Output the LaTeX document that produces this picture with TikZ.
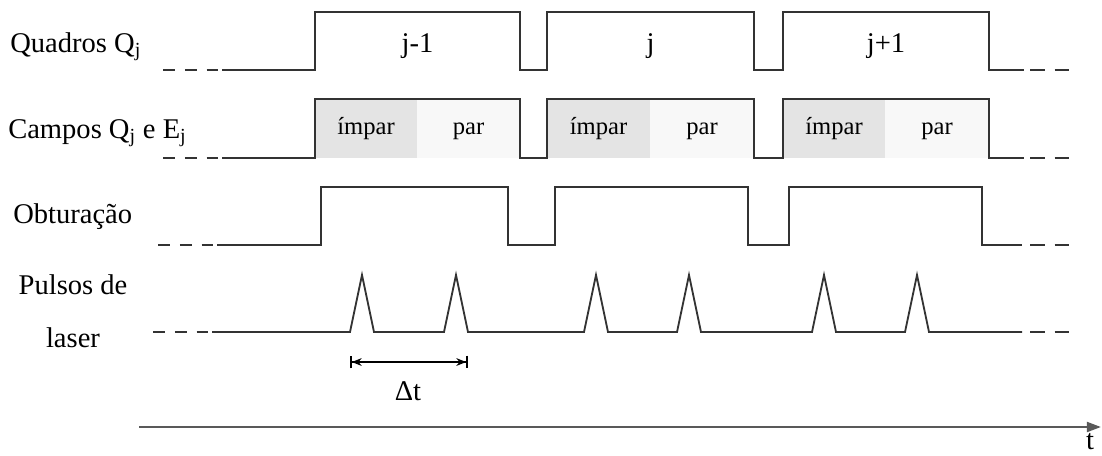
\documentclass[tikz,border=0pt]{standalone}
\usepackage{fontspec}
\setmainfont{Liberation Serif}
\usetikzlibrary{arrows.meta}
\definecolor{campoimpar}{HTML}{E4E4E4}
\definecolor{campopar}{HTML}{F8F8F8}
\tikzset{
  sinal/.style={line width=1.3pt,draw=black!80},
  reticencias/.style={sinal,dash pattern=on 8.5pt off 7pt},
  eixo/.style={line width=1.7pt,draw=black!65},
  rotulo/.style={anchor=base west,inner sep=0pt,font=\fontsize{20.3}{24}\selectfont},
  quadro/.style={anchor=base,inner sep=0pt,font=\fontsize{20.3}{24}\selectfont},
  campo/.style={anchor=base,inner sep=0pt,font=\fontsize{17.5}{21}\selectfont},
}

\begin{document}
\begin{tikzpicture}[x=0.025cm,y=-0.025cm,>=stealth]
\useasboundingbox (0,0) rectangle (1102,455);
% nomes das linhas
\node[rotulo] (quadros) at (10,52) {Quadros Q\textsubscript{j}};
\node[rotulo] (campos) at (8,138) {Campos Q\textsubscript{j} e E\textsubscript{j}};
\node[rotulo] (obturacao) at (13,223) {Obturação};
\node[quadro,align=center,font=\fontsize{20.3}{37}\selectfont] (pulsos) at (73,347) {Pulsos de\\laser};
% campos impar/par
\foreach \a/\m/\b [count=\i] in {315/417/520, 547/650/754, 783/885/989}{
  \fill[campoimpar] (\a,99) rectangle (\m,158);
  \fill[campopar] (\m,99) rectangle (\b,158);
  \node[campo] (impar\i) at ({(\a+\m)/2},134) {ímpar};
  \node[campo] (par\i) at ({(\m+\b)/2},134) {par};
}
% quadros
\draw[reticencias] (163,70)--(218,70);
\draw[sinal] (222,70) -| (315,12) -| (520,70) -| (547,12) -| (754,70) -| (783,12) -| (989,70) -- (1024,70);
\draw[reticencias,dash pattern=on 10.5pt off 7pt] (1030,70)--(1070,70);
\foreach \a/\b/\q [count=\i] in {315/520/j-1, 547/754/j, 783/989/j+1}
  \node[quadro] (quadro\i) at ({(\a+\b)/2},52) {\q};
% campos
\draw[reticencias] (163,158)--(218,158);
\draw[sinal] (222,158) -| (315,99) -| (520,158) -| (547,99) -| (754,158) -| (783,99) -| (989,158) -- (1024,158);
\draw[reticencias,dash pattern=on 10.5pt off 7pt] (1030,158)--(1070,158);
% obturacao
\draw[reticencias] (158,245)--(213,245);
\draw[sinal] (217,245) -| (321,187) -| (508,245) -| (555,187) -| (748,245) -| (789,187) -| (982,245) -- (1022,245);
\draw[reticencias,dash pattern=on 10.5pt off 7pt] (1030,245)--(1070,245);
% pulsos de laser
\draw[reticencias] (153,332)--(208,332);
\draw[sinal] (212,332) \foreach \p in {362,456,596,689,824,917}{ -- (\p-12,332) -- (\p,275) -- (\p+12,332)} -- (1022,332);
\draw[reticencias,dash pattern=on 10.5pt off 7pt] (1030,332)--(1070,332);
% intervalo entre pulsos
\coordinate (dt1) at (350,362);
\coordinate (dt2) at (468,362);
\draw[line width=1.3pt,{Bar[width=9pt]Stealth[length=7pt,width=5.5pt]}-{Stealth[length=7pt,width=5.5pt]Bar[width=9pt]}] (dt1)--(dt2);
\node[quadro] (deltat) at (408,400) {Δt};
% eixo do tempo
\coordinate (t0) at (139,427);
\coordinate (t1) at (1101,427);
\draw[eixo,-{Triangle[length=10pt,width=7pt]}] (t0)--(t1);
\node[quadro] (tempo) at (1090,449) {t};
\end{tikzpicture}
\end{document}
